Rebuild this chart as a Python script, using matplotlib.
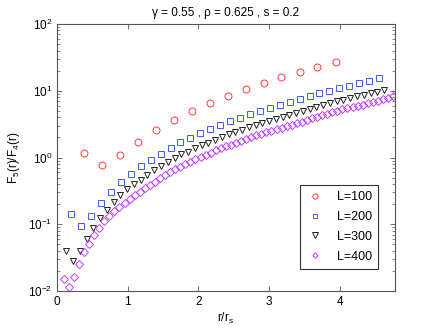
import matplotlib
matplotlib.use("Agg")
import matplotlib.pyplot as plt
from matplotlib.ticker import LogLocator, NullFormatter

plt.rcParams['font.family'] = ['Liberation Sans', 'DejaVu Sans']
plt.rcParams['mathtext.fontset'] = 'custom'
plt.rcParams['mathtext.rm'] = 'Liberation Sans'
plt.rcParams['mathtext.it'] = 'Liberation Sans'

title = "γ = 0.55 , ρ = 0.625 , s = 0.2"
labels = ["L=100", "L=200", "L=300", "L=400"]

x100 = [0.377, 0.631, 0.886, 1.140, 1.395, 1.649, 1.903, 2.158, 2.412, 2.667,
        2.921, 3.175, 3.430, 3.684, 3.939]
y100 = [1.156, 0.78, 1.10, 1.725, 2.58, 3.65, 4.97, 6.55, 8.34, 10.5,
        13.2, 16.1, 19.3, 22.9, 27.2]

x200 = [0.202, 0.342, 0.483, 0.623, 0.764, 0.904, 1.044, 1.185, 1.325, 1.466,
        1.606, 1.746, 1.887, 2.027, 2.168, 2.308, 2.448, 2.589, 2.729, 2.870,
        3.010, 3.150, 3.291, 3.431, 3.572, 3.712, 3.852, 3.993, 4.133, 4.274,
        4.414, 4.554]
y200 = [0.141, 0.095, 0.134, 0.208, 0.304, 0.425, 0.572, 0.738, 0.93, 1.14,
        1.40, 1.69, 1.98, 2.31, 2.67, 3.07, 3.52, 3.95, 4.48, 5.03,
        5.57, 6.22, 6.90, 7.52, 8.34, 9.25, 10.0, 10.9, 11.9, 13.1,
        14.1, 15.4]

x300 = [0.131, 0.227, 0.323, 0.418, 0.514, 0.610, 0.705, 0.801, 0.896, 0.992,
        1.088, 1.183, 1.279, 1.375, 1.470, 1.566, 1.662, 1.757, 1.853, 1.948,
        2.044, 2.140, 2.235, 2.331, 2.427, 2.522, 2.618, 2.713, 2.809, 2.905,
        3.000, 3.096, 3.192, 3.287, 3.383, 3.478, 3.574, 3.670, 3.765, 3.861,
        3.957, 4.052, 4.148, 4.244, 4.339, 4.435, 4.530, 4.626]
y300 = [0.0391, 0.0277, 0.0397, 0.0601, 0.0888, 0.124, 0.163, 0.212, 0.270, 0.332,
        0.398, 0.463, 0.556, 0.645, 0.746, 0.856, 0.983, 1.117, 1.23, 1.373,
        1.523, 1.666, 1.861, 2.049, 2.227, 2.41, 2.61, 2.835, 3.07, 3.29,
        3.52, 3.75, 4.00, 4.29, 4.64, 4.97, 5.33, 5.71, 6.12, 6.55,
        6.95, 7.34, 7.79, 8.26, 8.64, 9.16, 9.58, 10.26]

x400 = [0.095, 0.166, 0.238, 0.310, 0.381, 0.453, 0.525, 0.596, 0.668, 0.740,
        0.811, 0.883, 0.955, 1.026, 1.098, 1.170, 1.241, 1.313, 1.385, 1.456,
        1.528, 1.600, 1.671, 1.743, 1.815, 1.886, 1.958, 2.030, 2.101, 2.173,
        2.245, 2.316, 2.388, 2.460, 2.531, 2.603, 2.675, 2.746, 2.818, 2.890,
        2.961, 3.033, 3.105, 3.176, 3.248, 3.320, 3.391, 3.463, 3.535, 3.606,
        3.678, 3.750, 3.821, 3.893, 3.965, 4.036, 4.108, 4.180, 4.251, 4.323,
        4.395, 4.466, 4.538, 4.610, 4.681, 4.753]
y400 = [0.01528, 0.01136, 0.01637, 0.02537, 0.0380, 0.0511, 0.0697, 0.0888, 0.1107, 0.133,
        0.158, 0.183, 0.208, 0.239, 0.272, 0.307, 0.346, 0.387, 0.434, 0.485,
        0.539, 0.600, 0.666, 0.733, 0.794, 0.859, 0.936, 1.014, 1.090, 1.176,
        1.278, 1.378, 1.472, 1.566, 1.666, 1.773, 1.887, 2.014, 2.144, 2.257,
        2.385, 2.503, 2.636, 2.776, 2.924, 3.10, 3.30, 3.46, 3.66, 3.87,
        4.09, 4.30, 4.55, 4.77, 5.01, 5.24, 5.48, 5.73, 5.99, 6.22,
        6.49, 6.76, 7.02, 7.42, 7.81, 8.23]

xticks = [0, 1, 2, 3, 4]

fig = plt.figure(figsize=(4.36, 3.28), dpi=100)
ax = fig.add_axes([0.1307, 0.1128, 0.7752, 0.814])

mew = 0.7
ax.plot(x100, y100, 'o', ls='none', ms=5.0, mfc='none', mec='#ff3b3b', mew=mew, label=labels[0])
ax.plot(x200, y200, 's', ls='none', ms=4.2, mfc='none', mec='#3b5bff', mew=mew, label=labels[1])
ax.plot(x300, y300, 'v', ls='none', ms=5.0, mfc='none', mec='#222222', mew=mew, label=labels[2])
ax.plot(x400, y400, 'D', ls='none', ms=3.6, mfc='none', mec='#c040ff', mew=mew, label=labels[3])

ax.set_yscale('log')
ax.set_ylim(1e-2, 1e2)
ax.set_xlim(0, 4.78)
ax.set_xticks(xticks)
ax.set_xticklabels([str(t) for t in xticks])
ax.yaxis.set_major_locator(LogLocator(base=10, numticks=10))
ax.yaxis.set_minor_locator(LogLocator(base=10, subs=range(2, 10), numticks=10))
ax.yaxis.set_minor_formatter(NullFormatter())

for sp in ax.spines.values():
    sp.set_color('#555555')
    sp.set_linewidth(0.8)
ax.tick_params(which='both', direction='in', top=True, right=True,
               colors='#555555', labelcolor='black', labelsize=8.5)
ax.tick_params(which='major', length=3.5, width=0.6)
ax.tick_params(which='minor', length=2, width=0.5)

ax.set_title(title, fontsize=8.5, pad=6)
ax.set_xlabel('r/r$_\\mathregular{s}$', fontsize=8.5, labelpad=2)
ax.set_ylabel('F$_\\mathregular{5}$(r)/F$_\\mathregular{4}$(r)', fontsize=8.5, labelpad=4)

leg = ax.legend(loc='lower right', bbox_to_anchor=(0.95, 0.083), fontsize=9,
                frameon=True, fancybox=False, edgecolor='black', borderpad=0.5,
                markerscale=0.75, handlelength=1.4, handletextpad=1.0,
                labelspacing=0.62, borderaxespad=0.0)
leg.get_frame().set_linewidth(0.8)

fig.savefig('out.png', dpi=100)
